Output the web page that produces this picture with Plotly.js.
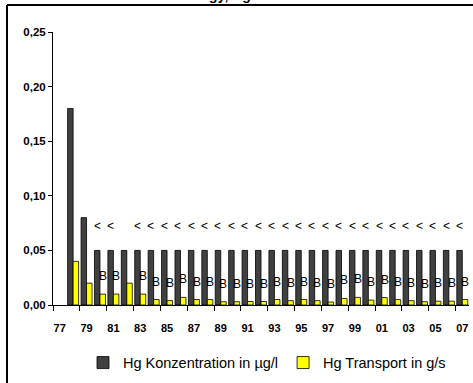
<!DOCTYPE html>
<html>
<head>
<meta charset="utf-8">
<script src="https://cdn.plot.ly/plotly-3.0.1.min.js"></script>
<style>
html,body{margin:0;padding:0;background:#fff;}
#chart{width:473px;height:383px;}
</style>
</head>
<body>
<div id="chart"></div>
<script>
// ---- data ----
const years = [1977,1978,1979,1980,1981,1982,1983,1984,1985,1986,1987,1988,1989,1990,1991,1992,1993,1994,1995,1996,1997,1998,1999,2000,2001,2002,2003,2004,2005,2006,2007];
const tickYears = [1977,1979,1981,1983,1985,1987,1989,1991,1993,1995,1997,1999,2001,2003,2005,2007];
const tickLabels = ['77','79','81','83','85','87','89','91','93','95','97','99','01','03','05','07'];
const concentration = [null,0.18,0.08,0.05,0.05,0.05,0.05,0.05,0.05,0.05,0.05,0.05,0.05,0.05,0.05,0.05,0.05,0.05,0.05,0.05,0.05,0.05,0.05,0.05,0.05,0.05,0.05,0.05,0.05,0.05,0.05];
const transport = [null,0.04,0.02,0.01,0.01,0.02,0.01,0.005,0.004,0.007,0.005,0.005,0.003,0.003,0.0032,0.0032,0.005,0.004,0.005,0.004,0.0027,0.006,0.007,0.0045,0.0068,0.005,0.004,0.003,0.0035,0.0035,0.005];
const concFlags = ['','','','<','<','','<','<','<','<','<','<','<','<','<','<','<','<','<','<','<','<','<','<','<','<','<','<','<','<','<'];
const transFlags = ['','','','B','B','','B','B','B','B','B','B','B','B','B','B','B','B','B','B','B','B','B','B','B','B','B','B','B','B','B'];
const seriesNames = ['Hg Konzentration in µg/l','Hg Transport in g/s'];
const titleText = 'Energy, Hg-Gütestation';

// ---- layout constants ----
const FONT = 'Liberation Sans, Arial, sans-serif';
const W = 473, H = 383;
const M = {l:53, r:4, t:32, b:69};
const BARGAP = 0.18;
const barOffset = (1 - BARGAP) / 4; // center offset of each bar in group
const xRange = [years[0] - 0.5, years[years.length-1] + 0.5];
const boundaryTicks = tickYears.map(y => y - 0.5);

const pw = W - M.l - M.r, ph = H - M.t - M.b;
const px2x = p => (p - M.l) / pw;
const py2y = p => (H - M.b - p) / ph;

const traces = [
  {type:'bar', x:years, y:concentration, name:seriesNames[0],
   marker:{color:'#404040', line:{color:'#000', width:0.8}}, hoverinfo:'skip'},
  {type:'bar', x:years, y:transport, name:seriesNames[1],
   marker:{color:'#ffff00', line:{color:'#000', width:0.8}}, hoverinfo:'skip'},
  {type:'scatter', x:[xRange[0]], y:[0], xaxis:'x2', yaxis:'y', mode:'markers',
   marker:{opacity:0}, showlegend:false, hoverinfo:'skip'}
];

const annotations = [];
years.forEach((yr, i) => {
  if (concFlags[i]) annotations.push({x: yr - barOffset, y: concentration[i], xref:'x', yref:'y',
    text: concFlags[i], showarrow:false, yshift:24, font:{family:FONT, size:12, color:'#000'}});
  if (transFlags[i]) annotations.push({x: yr + barOffset, y: transport[i], xref:'x', yref:'y',
    text: transFlags[i], showarrow:false, yshift:18, font:{family:FONT, size:12, color:'#000'}});
});
annotations.push({xref:'paper', yref:'paper', x:px2x(255), y:py2y(4), xanchor:'center', yanchor:'bottom',
  text:'<b>'+titleText+'</b>', showarrow:false, font:{family:FONT, size:14, color:'#000'}});

const layout = {
  width:W, height:H, margin:M,
  paper_bgcolor:'#fff', plot_bgcolor:'#fff',
  separators:',.',
  barmode:'group', bargap:BARGAP, bargroupgap:0,
  showlegend:true,
  legend:{orientation:'h', x:px2x(267), xanchor:'center', y:py2y(357), yanchor:'top',
    font:{family:FONT, size:14.5, color:'#000'}, bgcolor:'rgba(0,0,0,0)', itemwidth:30, traceorder:'normal'},
  xaxis:{type:'linear', range:xRange, tickmode:'array', tickvals:tickYears, ticktext:tickLabels,
    ticks:'', showgrid:false, zeroline:false, showline:true, linecolor:'#000', linewidth:1,
    tickfont:{family:FONT, size:11, color:'#000', weight:'bold'}, ticklabelstandoff:13, fixedrange:true},
  xaxis2:{type:'linear', overlaying:'x', side:'bottom', range:xRange, tickmode:'array', tickvals:boundaryTicks,
    ticks:'outside', ticklen:5, tickcolor:'#000', tickwidth:1, showticklabels:false, showgrid:false,
    zeroline:false, showline:false, fixedrange:true},
  yaxis:{range:[0,0.25], dtick:0.05, tick0:0, tickformat:'.2f', ticks:'outside', ticklen:4, tickcolor:'#000',
    showgrid:false, zeroline:false, showline:true, linecolor:'#000', linewidth:1,
    tickfont:{family:FONT, size:11.5, color:'#000', weight:'bold'}, fixedrange:true},
  annotations:annotations,
  shapes:[
    {type:'line', xref:'paper', yref:'paper', x0:px2x(7), x1:px2x(7), y0:py2y(4), y1:py2y(H+20), line:{color:'#000', width:2}},
    {type:'line', xref:'paper', yref:'paper', x0:px2x(7), x1:px2x(W+20), y0:py2y(4), y1:py2y(4), line:{color:'#000', width:2}}
  ],
  font:{family:FONT, color:'#000'}
};

Plotly.newPlot('chart', traces, layout, {displayModeBar:false, staticPlot:true});
</script>
</body>
</html>
